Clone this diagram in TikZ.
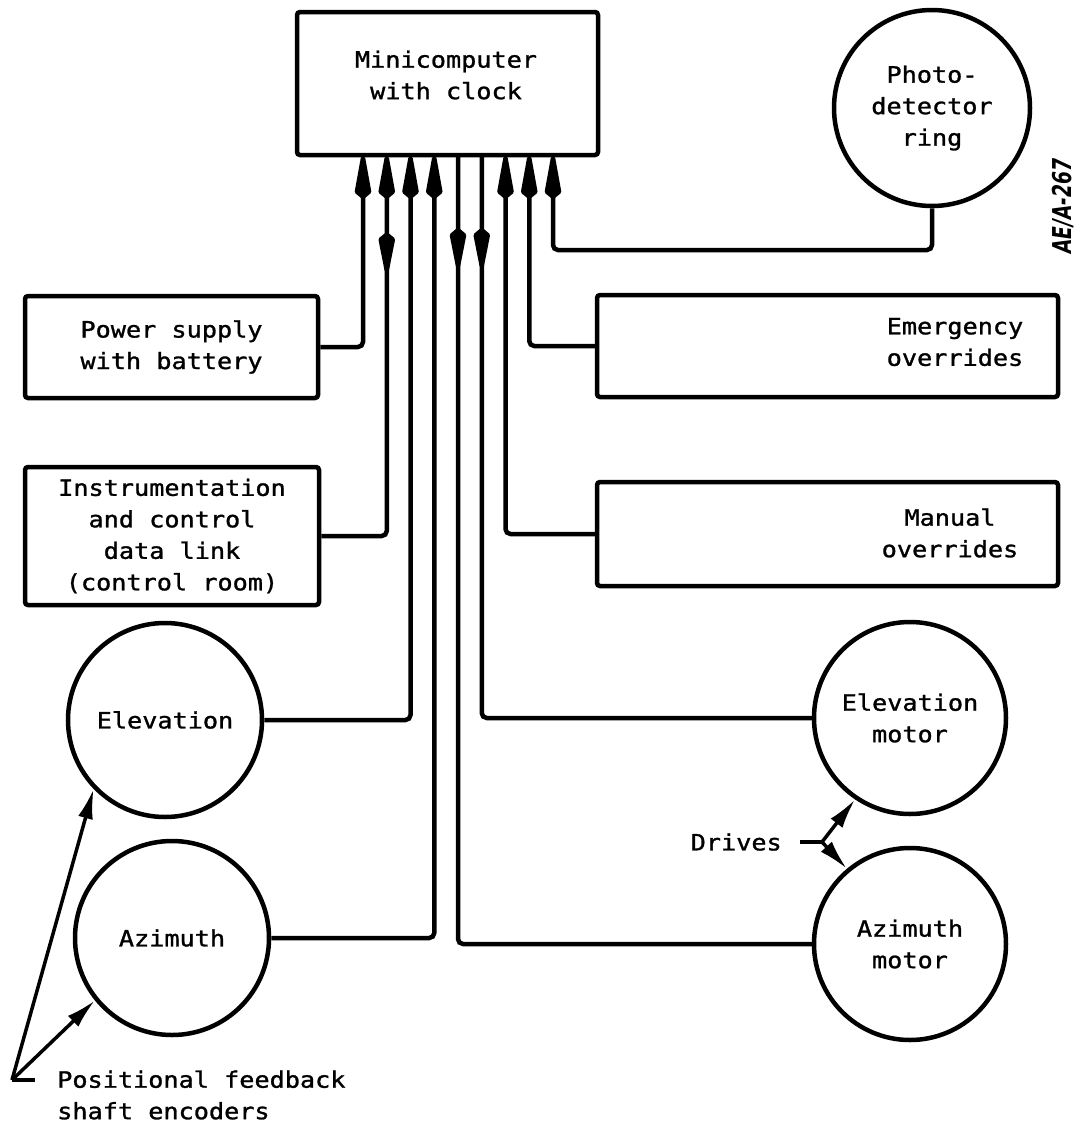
\documentclass[tikz,border=0pt]{standalone}
\usepackage{fontspec}
\setmainfont[FakeStretch=1.12,FakeBold=1.2]{DejaVu Sans Mono}
\newfontfamily\tagfont[FakeStretch=0.72]{DejaVu Sans}
\usetikzlibrary{arrows.meta,decorations.markings}
\newcommand\fsz{\fontsize{22.5}{31.5}\selectfont}
\begin{document}
\begin{tikzpicture}[x=1pt,y=-1pt,line width=4.5pt,
  box/.style={draw,rectangle,rounded corners=3pt,inner sep=0pt,align=center,font=\fsz},
  circ/.style={draw,circle,inner sep=0pt,align=center,font=\fsz},
  lbl/.style={align=center,font=\fsz,inner sep=0pt},
  wire/.style={line width=4.5pt,rounded corners=5pt},
  tomini/.style={-{Kite[length=54pt,width=17pt,inset=7pt,round]}},
  thinarrow/.style={line width=3.5pt,-{Latex[length=30pt,width=15pt]}},
  midtip/.style={postaction={decorate},decoration={markings,mark=at position #1 with {\arrow{Kite[length=50pt,width=17pt,inset=7pt,round]}}}},
  midtiprev/.style={postaction={decorate},decoration={markings,mark=at position #1 with {\arrowreversed{Kite[length=50pt,width=17pt,inset=7pt,round]}}}}
]
\fill[white] (0,0) rectangle (1085,1128);
\useasboundingbox (0,0) rectangle (1085,1128);

% nodes
\node[box,minimum width=301pt,minimum height=143pt] (mini) at (447.5,83.5) {};
\node[lbl] (minitext) at (446,75) {Minicomputer\\with clock};
\node[circ,minimum size=196pt] (photo) at (932,108) {Photo-\\detector\\ring};
\node[box,minimum width=293pt,minimum height=102pt] (power) at (171.5,347) {Power supply\\with battery};
\node[box,minimum width=294pt,minimum height=138pt] (instr) at (172,536) {Instrumentation\\and control\\data link\\(control room)};
\node[box,minimum width=461pt,minimum height=102pt] (emerg) at (827.5,346) {};
\node[lbl] (emergtext) at (955,342) {Emergency\\overrides};
\node[box,minimum width=461pt,minimum height=104pt] (manual) at (827.5,534) {};
\node[lbl] (manualtext) at (950,533) {Manual\\overrides};
\node[circ,minimum size=194pt] (elev) at (165,720) {Elevation};
\node[circ,minimum size=194pt] (azim) at (172,938) {Azimuth};
\node[circ,minimum size=192pt] (elmot) at (910,718) {Elevation\\motor};
\node[circ,minimum size=192pt] (azmot) at (910,944) {Azimuth\\motor};
\node[font=\fsz,anchor=east,inner sep=0pt] (drives) at (784,842) {Drives};
\node[font=\fsz,anchor=west,align=left,inner sep=0pt] (pft) at (55,1095) {Positional feedback\\shaft encoders};
\node[rotate=90,inner sep=0pt,font=\tagfont\bfseries\itshape\fontsize{26}{26}\selectfont] (tag) at (1063,206) {AE/A-267};

% connection points on the minicomputer
\coordinate (b1) at (363,156);
\coordinate (b2) at (386.75,156);
\coordinate (b3) at (410.5,156);
\coordinate (b4) at (434.25,156);
\coordinate (b5) at (458,156);
\coordinate (b6) at (481.75,156);
\coordinate (b7) at (505.5,156);
\coordinate (b8) at (529.25,156);
\coordinate (b9) at (553,156);
\coordinate (pc) at (932,250);
\coordinate (dj) at (822,842);
\coordinate (pf) at (12,1080);

% bus wires
\draw[wire,tomini] (power.east) -| (b1);
\draw[wire,tomini,midtiprev=327pt] (instr.east) -| (b2);
\draw[wire,tomini] (elev.east) -| (b3);
\draw[wire,tomini] (azim.east) -| (b4);
\draw[wire,midtip=112pt] (b5) |- (azmot.west);
\draw[wire,midtip=112pt] (b6) |- (elmot.west);
\draw[wire,tomini] (manual.west) -| (b7);
\draw[wire,tomini] (emerg.west) -| (b8);
\draw[wire,tomini] (photo.south) -- (pc) -| (b9);

% drives
\draw[line width=3.5pt,shorten <=16pt] (drives.east) -- (dj);
\draw[thinarrow] (dj) -- (elmot.236);
\draw[thinarrow] (dj) -- (azmot.130);

% positional feedback
\draw[line width=3.5pt,shorten >=20pt] (pf) -- (pft.west |- pf);
\draw[thinarrow] (pf) -- (elev.224);
\draw[thinarrow] (pf) -- (azim.219);
\end{tikzpicture}
\end{document}
